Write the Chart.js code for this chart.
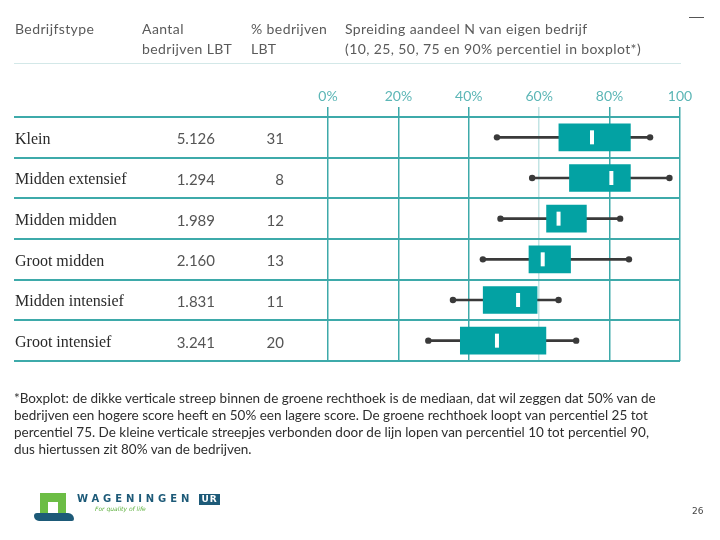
<!DOCTYPE html>
<html>
<head>
<meta charset="utf-8">
<script src="https://cdn.jsdelivr.net/npm/chart.js@4"></script>
<style>
  body { margin: 0; background: #fff; width: 720px; height: 540px; position: relative; overflow: hidden; }
  #chart { position: absolute; left: 0; top: 0; }
  .t { position: absolute; white-space: nowrap; }
  .head { font-family: Lato, sans-serif; font-size: 14px; color: #5a5a5a; letter-spacing: 0.4px; line-height: 20px; }
  .note { font-family: Lato, sans-serif; font-size: 13.5px; color: #2e2e2e; line-height: 17px; letter-spacing: 0px; left: 14px; top: 390px; }
</style>
</head>
<body>
<canvas id="chart" width="720" height="540"></canvas>

<div class="t head" style="left:15px;top:19px;">Bedrijfstype</div>
<div class="t head" style="left:142px;top:19px;">Aantal<br>bedrijven LBT</div>
<div class="t head" style="left:251px;top:19px;">% bedrijven<br>LBT</div>
<div class="t head" style="left:345px;top:19px;">Spreiding aandeel N van eigen bedrijf<br>(10, 25, 50, 75 en 90% percentiel in boxplot*)</div>
<div class="t" style="left:14px;top:63px;width:667px;height:1px;background:#d3e8e8;"></div>
<div class="t" style="left:689px;top:17px;width:15px;height:1px;background:#555;"></div>

<div class="t note">*Boxplot: de dikke verticale streep binnen de groene rechthoek is de mediaan, dat wil zeggen dat 50% van de<br>bedrijven een hogere score heeft en 50% een lagere score. De groene rechthoek loopt van percentiel 25 tot<br>percentiel 75. De kleine verticale streepjes verbonden door de lijn lopen van percentiel 10 tot percentiel 90,<br>dus hiertussen zit 80% van de bedrijven.</div>

<!-- logo -->
<div class="t" style="left:40px;top:493px;width:26px;height:22px;background:#6cbd45;"></div>
<div class="t" style="left:48px;top:502px;width:10px;height:13px;background:#fff;"></div>
<div class="t" style="left:34px;top:513px;width:40px;height:8px;background:#1d5a78;border-radius:3px 6px 2px 5px;"></div>
<div class="t" style="left:77px;top:493px;font-family:'DejaVu Sans',sans-serif;font-size:10px;font-weight:bold;letter-spacing:3.9px;color:#1d5a78;">WAGENINGEN</div>
<div class="t" style="left:199px;top:494px;width:21px;height:11px;background:#1d5a78;color:#fff;font-family:'DejaVu Sans',sans-serif;font-size:9px;font-weight:bold;letter-spacing:1px;line-height:11px;text-align:center;">UR</div>
<div class="t" style="left:95px;top:505px;font-family:'DejaVu Sans',sans-serif;font-size:6px;font-style:italic;color:#5aae3a;">For quality of life</div>
<div class="t" style="left:692px;top:506px;font-family:'DejaVu Sans',sans-serif;font-size:9px;color:#444;">26</div>

<script>
const categories = ['Klein', 'Midden extensief', 'Midden midden', 'Groot midden', 'Midden intensief', 'Groot intensief'];
const aantalLBT = ['5.126', '1.294', '1.989', '2.160', '1.831', '3.241'];
const pctLBT = ['31', '8', '12', '13', '11', '20'];
const p10 = [48, 58, 49, 44, 35.5, 28.5];
const p25 = [65.5, 68.5, 62, 57, 44, 37.5];
const p50 = [75, 80.5, 65.5, 61, 54, 48];
const p75 = [86, 86, 73.5, 69, 59.5, 62];
const p90 = [91.5, 97, 83, 85.5, 65.5, 70.5];
const tickValues = [0, 20, 40, 60, 80, 100];
const tickLabels = ['0%', '20%', '40%', '60%', '80%', '100'];

const teal = '#3eaaaa';
const lightTeal = '#c2e4e4';

// table columns next to the boxplot, placed on the category scale
const tableColumns = {
  id: 'tableColumns',
  afterDraw(chart) {
    const c = chart.ctx;
    const y = chart.scales.y;
    c.save();
    c.textBaseline = 'middle';
    categories.forEach((cat, i) => {
      const py = y.getPixelForValue(i) + 2;
      c.fillStyle = '#2a2a2a';
      c.textAlign = 'left';
      c.font = '16px "Liberation Serif", serif';
      c.fillText(cat, 15, py);
      c.fillStyle = '#555';
      c.textAlign = 'right';
      c.font = '15px Lato, sans-serif';
      c.fillText(aantalLBT[i], 215, py);
      c.fillText(pctLBT[i], 284, py);
    });
    c.restore();
  }
};

const ctx = document.getElementById('chart').getContext('2d');
new Chart(ctx, {
  type: 'bar',
  data: {
    labels: categories,
    datasets: [
      {
        label: 'mediaan',
        type: 'scatter',
        data: categories.map((c, i) => ({ x: p50[i], y: c })),
        pointStyle: 'line',
        rotation: 90,
        pointRadius: 7,
        borderWidth: 4,
        borderColor: '#ffffff',
        order: 0
      },
      {
        label: 'p10',
        type: 'scatter',
        data: categories.map((c, i) => ({ x: p10[i], y: c })),
        pointRadius: 3.2,
        backgroundColor: '#3a3a3a',
        borderWidth: 0,
        order: 1
      },
      {
        label: 'p90',
        type: 'scatter',
        data: categories.map((c, i) => ({ x: p90[i], y: c })),
        pointRadius: 3.2,
        backgroundColor: '#3a3a3a',
        borderWidth: 0,
        order: 1
      },
      {
        label: 'p25-p75',
        data: categories.map((c, i) => [p25[i], p75[i]]),
        backgroundColor: '#03a2a3',
        grouped: false,
        categoryPercentage: 1,
        barPercentage: 0.68,
        order: 2
      },
      {
        label: 'p10-p90',
        data: categories.map((c, i) => [p10[i], p90[i]]),
        backgroundColor: '#3a3a3a',
        grouped: false,
        barThickness: 2,
        order: 3
      }
    ]
  },
  options: {
    indexAxis: 'y',
    responsive: false,
    animation: false,
    layout: { padding: { left: 14, right: 40, top: 0, bottom: 179 } },
    plugins: { legend: { display: false }, tooltip: { enabled: false } },
    scales: {
      x: {
        type: 'linear',
        position: 'top',
        min: -89.2,
        max: 100,
        afterBuildTicks: s => { s.ticks = tickValues.map(v => ({ value: v })); },
        afterFit: s => { s.height = 117; },
        grid: {
          color: c => (c.tick && c.tick.value === 60) ? lightTeal : teal,
          tickColor: c => (c.tick && c.tick.value === 60) ? lightTeal : teal,
          lineWidth: 1.5,
          tickLength: 10
        },
        border: { display: false },
        ticks: {
          callback: (v, i) => tickLabels[i],
          color: '#5cb6b6',
          font: { family: 'Lato', size: 14 },
          padding: 2,
          maxRotation: 0,
          autoSkip: false
        }
      },
      y: {
        type: 'category',
        labels: categories,
        offset: true,
        grid: { offset: true, color: teal, lineWidth: 2, drawTicks: false },
        border: { display: false },
        ticks: { display: false },
        afterFit: s => { s.width = 0; }
      }
    }
  },
  plugins: [tableColumns]
});
</script>
</body>
</html>
